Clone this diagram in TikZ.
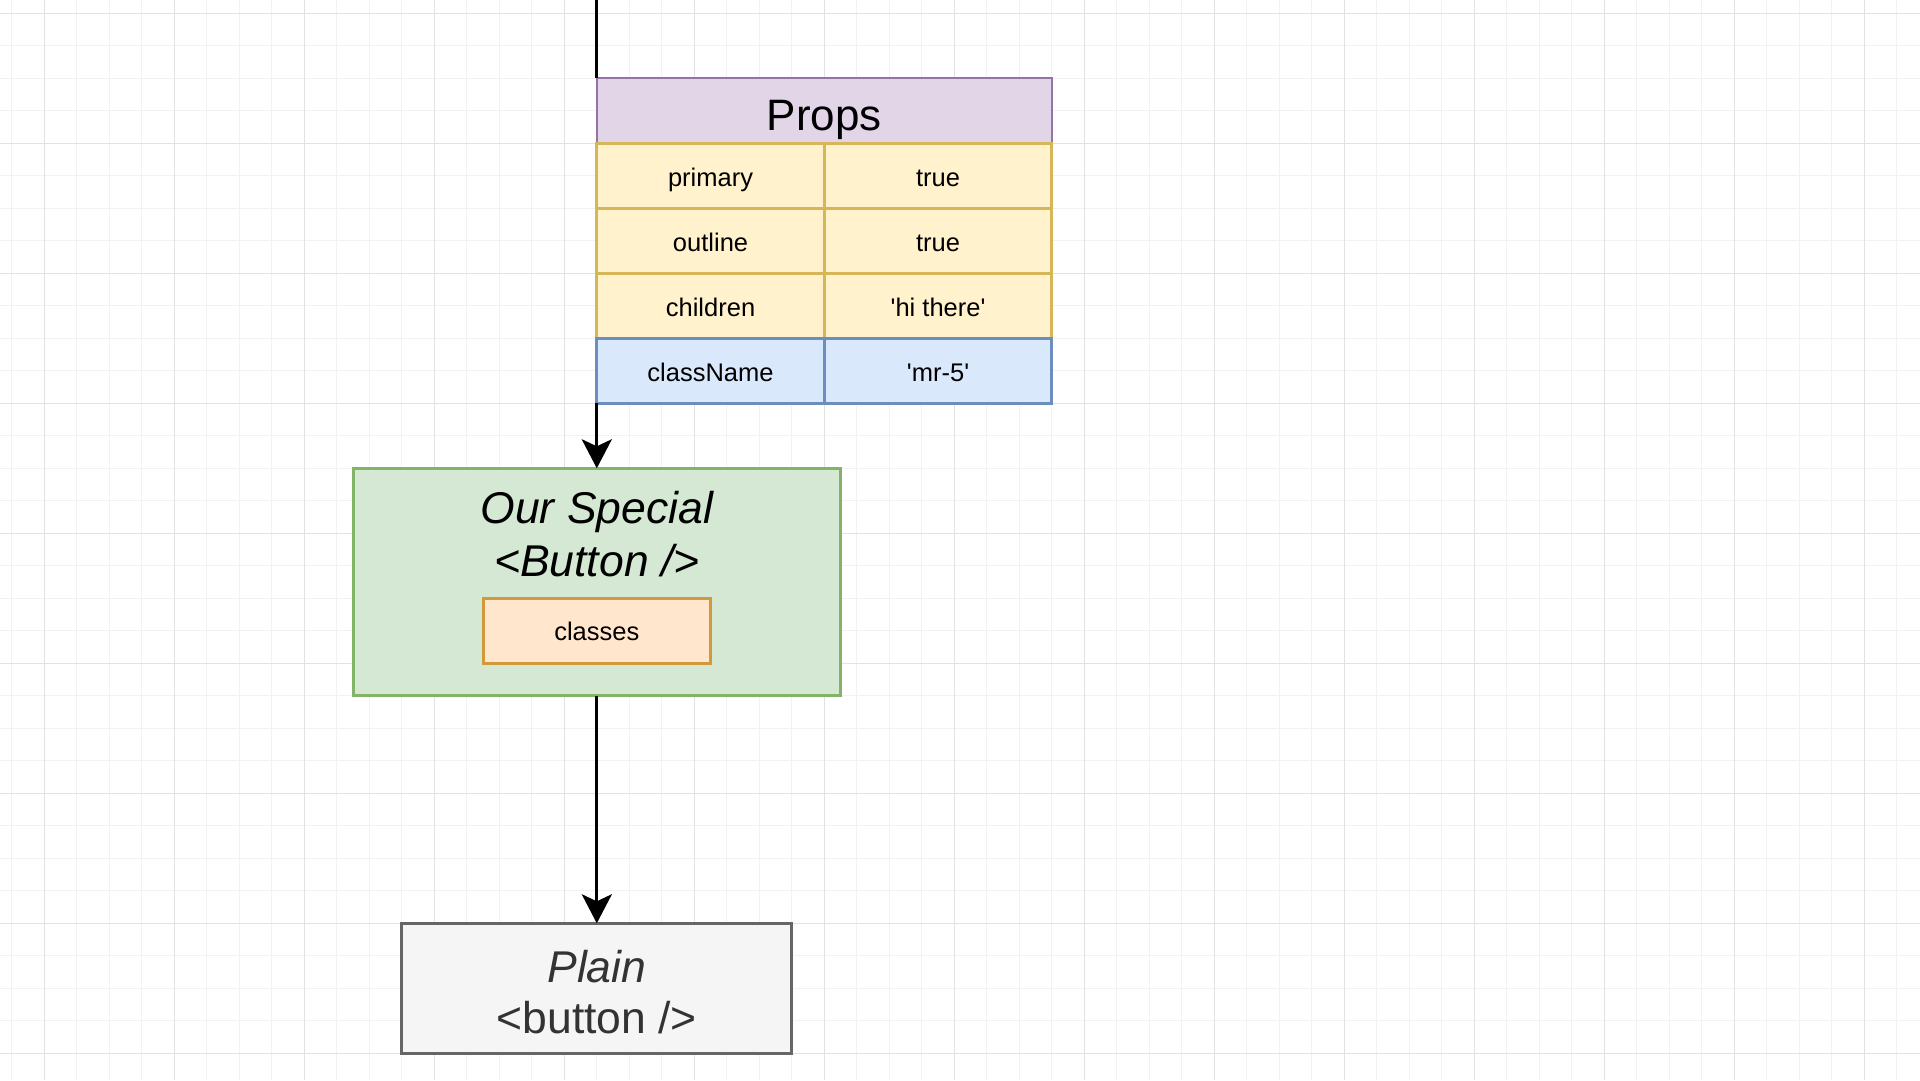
\documentclass[tikz,border=0pt]{standalone}
\usepackage{fontspec}
\setmainfont{Liberation Sans}
\usetikzlibrary{arrows.meta}

\definecolor{propsfill}{HTML}{E1D5E7}
\definecolor{propsline}{HTML}{9673A6}
\definecolor{rowfill}{HTML}{FFF2CC}
\definecolor{rowline}{HTML}{D6B656}
\definecolor{cnfill}{HTML}{DAE8FC}
\definecolor{cnline}{HTML}{6C8EBF}
\definecolor{btnfill}{HTML}{D5E8D4}
\definecolor{btnline}{HTML}{82B366}
\definecolor{clsfill}{HTML}{FFE6CC}
\definecolor{clsline}{HTML}{D09A3C}
\definecolor{plainfill}{HTML}{F5F5F5}
\definecolor{plainline}{HTML}{666666}
\definecolor{plaintext}{HTML}{333333}
\definecolor{minorgrid}{HTML}{F2F2F2}
\definecolor{majorgrid}{HTML}{E2E2E2}

\newcommand{\bigsize}{\fontsize{44.5}{52}\selectfont}
\newcommand{\cellsize}{\fontsize{25.5}{30}\selectfont}
\newcommand{\sq}{\textquotesingle}

\begin{document}
\begin{tikzpicture}[x=1pt,y=-1pt,every node/.style={outer sep=0pt},
		cell/.style={rectangle,draw,line width=3pt,inner sep=0pt,minimum width=227.5pt,minimum height=65pt,font=\cellsize,text height=21pt,text depth=0pt},
		propcell/.style={cell,draw=rowline,fill=rowfill},
		cncell/.style={cell,draw=cnline,fill=cnfill},
		bigline/.style={font=\bigsize,anchor=base,inner sep=0pt},
		wire/.style={line width=3pt},
		tip/.style={-{Stealth[length=29pt,width=30pt,inset=7pt]}}]
			\useasboundingbox (0,0) rectangle (1920,1080);
			\fill[white] (0,0) rectangle (1920,1080);
			% grid
			\foreach \i in {0,...,58}
				\draw[minorgrid,line width=1pt] ({11.8+32.5*\i},0) -- ++(0,1080);
			\foreach \i in {0,...,32}
				\draw[minorgrid,line width=1pt] (0,{13.3+32.5*\i}) -- ++(1920,0);
			\foreach \i in {0,...,14}
				\draw[majorgrid,line width=1pt] ({44.3+130*\i},0) -- ++(0,1080);
			\foreach \i in {0,...,8}
				\draw[majorgrid,line width=1pt] (0,{13.3+130*\i}) -- ++(1920,0);

			% props table
			\draw (824.3,110.8) node [rectangle,draw=propsline,fill=propsfill,line width=2pt,inner sep=0pt,minimum width=455pt,minimum height=65pt,font=\fontsize{44}{52}\selectfont,text height=38.4pt,text depth=0pt] (props) {Props};
			\draw (710.55,175.8) node [propcell] (primary) {primary};
			\draw (938.05,175.8) node [propcell] (primaryval) {true};
			\draw (710.55,240.8) node [propcell] (outline) {outline};
			\draw (938.05,240.8) node [propcell] (outlineval) {true};
			\draw (710.55,305.8) node [propcell] (children) {children};
			\draw (938.05,305.8) node [propcell] (childrenval) {\sq hi there\sq};
			\draw (710.55,370.8) node [cncell] (classname) {className};
			\draw (938.05,370.8) node [cncell] (classnameval) {\sq mr-5\sq};

			% special button
			\draw (596.8,582.05) node [rectangle,draw=btnline,fill=btnfill,line width=3pt,minimum width=487.5pt,minimum height=227.5pt] (special) {};
			\draw (596.8,523) node [bigline] (specialA) {\itshape Our Special};
			\draw (596.8,576) node [bigline] (specialB) {\itshape <Button />};
			\draw (596.8,630.8) node [cell,draw=clsline,fill=clsfill,text height=20pt] (classes) {classes};

			% plain button
			\draw (596.8,988.3) node [rectangle,draw=plainline,fill=plainfill,line width=3pt,minimum width=390pt,minimum height=130pt] (plain) {};
			\draw (596.8,982) node [bigline,text=plaintext] (plainA) {\itshape Plain};
			\draw (596.8,1033) node [bigline,text=plaintext] (plainB) {<button />};

			\coordinate (top) at (596.8,0);
			\draw[wire] (top) -- (props.north west);
			\draw[wire,tip] (classname.south west) -- (special.north);
			\draw[wire,tip] (special.south) -- (plain.north);
		\end{tikzpicture}
\end{document}
